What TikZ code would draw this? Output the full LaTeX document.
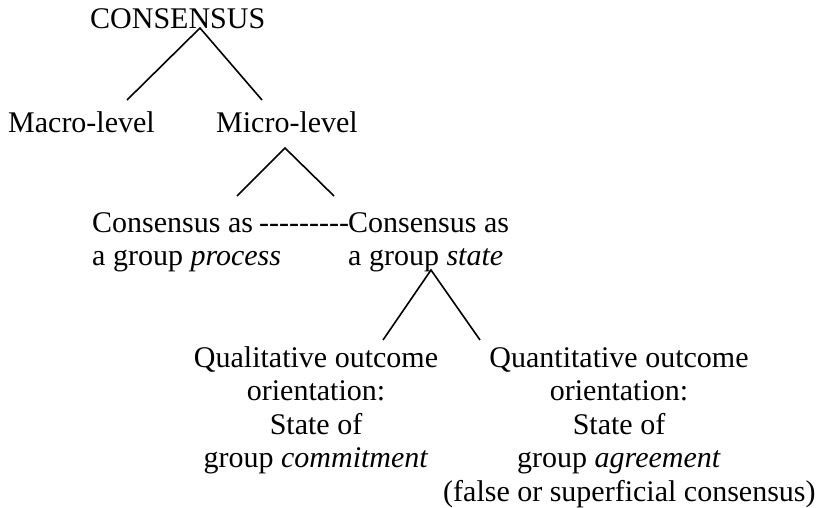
\documentclass[tikz,border=0pt]{standalone}
\usepackage{fontspec}
\setmainfont{Liberation Serif}
\usetikzlibrary{positioning}

\begin{document}
\begin{tikzpicture}[x=1pt, y=-1pt, font=\fontsize{30}{33.5}\selectfont]
        \tikzstyle{term} = [inner sep=0pt, anchor=base west]
        \tikzstyle{outcome} = [inner sep=0pt, anchor=base, align=center]
        \tikzstyle{branch} = [line width=1.6pt]

        \useasboundingbox (0,0) rectangle (821,508);

        % --- 第一层 ---
        \node [term] (consensus) at (90,29) {CONSENSUS};
        \node [term] (macro) at (8,132) {Macro-level};
        \node [term] (micro) at (216,132) {Micro-level};

        % --- 第二层 (基线取最后一行) ---
        \node [term, align=left] (process) at (92,265.5) {Consensus as\\a group \textit{process}};
        \node [term] (dashes) at (259,232) {{-}{-}{-}{-}{-}{-}{-}{-}{-}};
        \node [term, align=left] (state) at (348,265.5) {Consensus as\\a group \textit{state}};

        % --- 第三层 ---
        \node [outcome] (qual) at (316,467.5) {Qualitative outcome\\orientation:\\State of\\group \textit{commitment}};
        \node [outcome] (quant) at (619,467.5) {Quantitative outcome\\orientation:\\State of\\group \textit{agreement}};
        \node [term] (falsecons) at (443,501) {(false or superficial consensus)};

        % --- 分支端点 ---
        \coordinate (top_cons) at (200,28);
        \coordinate (end_macro) at (127,100);
        \coordinate (end_micro) at (262,100);
        \coordinate (top_micro) at (285,148);
        \coordinate (end_process) at (237,196);
        \coordinate (end_state) at (334,196);
        \coordinate (top_state) at (431,270);
        \coordinate (end_qual) at (383,340);
        \coordinate (end_quant) at (480,340);

        % --- 连线 ---
        \draw [branch] (end_macro) -- (top_cons) -- (end_micro);
        \draw [branch] (end_process) -- (top_micro) -- (end_state);
        \draw [branch] (end_qual) -- (top_state) -- (end_quant);

    \end{tikzpicture}
\end{document}
